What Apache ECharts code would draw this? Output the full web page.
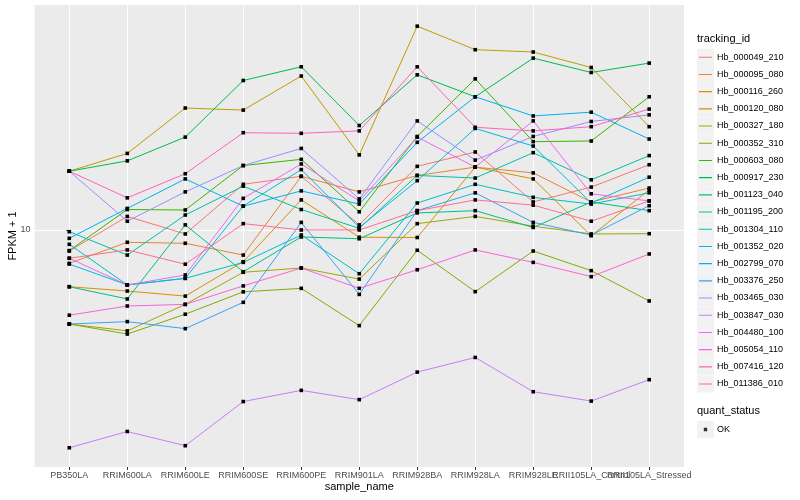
<!DOCTYPE html>
<html><head><meta charset="utf-8">
<script src="https://cdn.jsdelivr.net/npm/echarts@6/dist/echarts.min.js"></script>
<style>html,body{margin:0;padding:0;background:#fff}#c{width:800px;height:500px}</style>
</head><body><div id="c"></div>
<script>
const categories = ['PB350LA','RRIM600LA','RRIM600LE','RRIM600SE','RRIM600PE','RRIM901LA','RRIM928BA','RRIM928LA','RRIM928LE','RRII105LA_Control','RRII105LA_Stressed'];
const trackingIds = ['Hb_000049_210','Hb_000095_080','Hb_000116_260','Hb_000120_080','Hb_000327_180','Hb_000352_310','Hb_000603_080','Hb_000917_230','Hb_001123_040','Hb_001195_200','Hb_001304_110','Hb_001352_020','Hb_002799_070','Hb_003376_250','Hb_003465_030','Hb_003847_030','Hb_004480_100','Hb_005054_110','Hb_007416_120','Hb_011386_010'];
const quantStatus = ['OK'];

// FPKM + 1 per sample (order of categories)
const hb_000049_210 = [8.51, 11.1, 9.70, 14.2, 15.1, 10.4, 16.3, 18.2, 12.4, 13.9, 16.5];
const hb_000095_080 = [7.74, 9.10, 9.03, 8.25, 15.1, 13.4, 15.2, 16.2, 15.5, 12.4, 13.8];
const hb_000116_260 = [6.47, 6.26, 6.02, 7.84, 12.6, 9.46, 9.44, 16.2, 14.8, 9.57, 13.6];
const hb_000120_080 = [15.7, 18.0, 25.5, 25.1, 32.6, 17.8, 47.8, 39.9, 39.2, 34.8, 22.1];
const hb_000327_180 = [4.86, 4.61, 5.65, 7.23, 7.47, 6.86, 10.5, 11.1, 10.3, 9.70, 9.72];
const hb_000352_310 = [4.86, 4.50, 5.24, 6.22, 6.39, 4.80, 8.56, 6.23, 8.51, 7.32, 5.80];
const hb_000603_080 = [8.54, 11.7, 11.66, 16.4, 17.2, 11.5, 20.5, 31.9, 19.7, 19.8, 27.8];
const hb_000917_230 = [15.7, 17.0, 20.4, 31.5, 35.0, 22.3, 32.9, 27.8, 37.4, 33.5, 36.0];
const hb_001123_040 = [6.47, 5.89, 10.4, 7.26, 9.48, 9.35, 11.4, 11.6, 10.2, 12.4, 11.6];
const hb_001195_200 = [9.87, 8.25, 11.22, 14.0, 11.7, 10.13, 15.2, 14.9, 18.1, 14.7, 17.7];
const hb_001304_110 = [8.96, 6.56, 6.90, 7.80, 9.62, 7.15, 12.3, 14.2, 12.85, 12.2, 13.3];
const hb_001352_020 = [7.70, 6.56, 6.90, 12.02, 15.9, 10.2, 14.6, 21.8, 19.05, 12.3, 15.0];
const hb_002799_070 = [9.38, 11.8, 14.8, 12.0, 13.5, 12.2, 19.6, 27.8, 24.0, 24.7, 20.1];
const hb_003376_250 = [4.86, 4.95, 4.69, 5.74, 10.6, 6.10, 11.6, 13.3, 10.6, 9.62, 12.05];
const hb_003465_030 = [15.7, 10.7, 13.4, 16.4, 18.7, 12.7, 23.1, 17.1, 20.5, 23.0, 24.2];
const hb_003847_030 = [1.88, 2.13, 1.91, 2.68, 2.92, 2.72, 3.36, 3.76, 2.89, 2.69, 3.17];
const hb_004480_100 = [8.05, 6.56, 7.08, 12.75, 16.6, 12.5, 20.4, 16.2, 23.1, 13.2, 12.5];
const hb_005054_110 = [5.20, 5.58, 5.65, 6.51, 7.47, 6.39, 7.37, 8.58, 7.80, 6.99, 8.32];
const hb_007416_120 = [15.7, 12.8, 15.4, 21.1, 21.0, 21.4, 35.0, 22.0, 21.4, 22.1, 25.3];
const hb_011386_010 = [8.05, 8.58, 7.69, 10.5, 10.0, 10.0, 11.6, 12.6, 12.1, 10.7, 12.5];

const seriesValues = [hb_000049_210, hb_000095_080, hb_000116_260, hb_000120_080, hb_000327_180, hb_000352_310, hb_000603_080, hb_000917_230, hb_001123_040, hb_001195_200, hb_001304_110, hb_001352_020, hb_002799_070, hb_003376_250, hb_003465_030, hb_003847_030, hb_004480_100, hb_005054_110, hb_007416_120, hb_011386_010];
const yTickValues = [10];

// styles
const colors = ['#F8766D','#EA8331','#D89000','#C09B00','#A3A500','#7CAE00','#39B600','#00BB4E','#00BF7D','#00C1A3','#00BFC4','#00BAE0','#00B0F6','#35A2FF','#9590FF','#C77CFF','#E76BF3','#FA62DB','#FF62BC','#FF6C91'];
const FONT = 'Liberation Sans';
const lineIcon = 'path://M0,0h0.01v0.01h-0.01z M2,8h13v1.1h-13z M16.99,16.99h0.01v0.01h-0.01z';
const pointIcon = 'path://M0,0h0.01v0.01h-0.01z M6.8,6.8h3.4v3.4h-3.4z M16.99,16.99h0.01v0.01h-0.01z';
const legTop = 48.7, legStep = 17.2, legLeft = 697;

const catIdx = categories.map((c, i) => i);
const evenIdx = catIdx.filter(i => i % 2 === 0);
const oddIdx = catIdx.filter(i => i % 2 === 1);

const series = seriesValues.map((vals, k) => ({
  name: trackingIds[k],
  type: 'line',
  xAxisIndex: 0,
  data: vals.map((v, i) => [i, v]),
  symbol: 'rect',
  symbolSize: 3.6,
  itemStyle: { color: '#000' },
  lineStyle: { color: colors[k], width: 1 },
  emphasis: { disabled: true },
  animation: false
}));
series.push({ name: quantStatus[0], type: 'scatter', data: [], symbol: 'rect', itemStyle: { color: '#000' } });

const boxes = [];
trackingIds.forEach((n, i) => boxes.push({ type: 'rect', z: 0, shape: { x: legLeft, y: legTop + legStep * i, width: 17, height: 17 }, style: { fill: '#F2F2F2' } }));
boxes.push({ type: 'rect', z: 0, shape: { x: legLeft, y: 421, width: 17, height: 17 }, style: { fill: '#F2F2F2' } });

const xLabelStyle = { formatter: v => categories[Math.round(v)] || '', fontSize: 9, color: '#4D4D4D', margin: 4, fontFamily: FONT, hideOverlap: false, showMinLabel: true, showMaxLabel: true, interval: 0 };

const chart = echarts.init(document.getElementById('c'), null, { renderer: 'canvas' });
chart.setOption({
  animation: false,
  backgroundColor: '#fff',
  textStyle: { fontFamily: FONT },
  grid: { left: 34.5, right: 116, top: 5, bottom: 33, show: true, backgroundColor: '#EBEBEB', borderWidth: 0, outerBoundsMode: 'none' },
  xAxis: [{
    type: 'value', min: -0.6, max: 10.6, position: 'bottom',
    name: 'sample_name', nameLocation: 'middle', nameGap: 14, nameMoveOverlap: false,
    nameTextStyle: { fontSize: 11, color: '#000', fontFamily: FONT },
    axisLine: { show: false },
    axisTick: { show: true, length: 3, lineStyle: { color: '#333' }, customValues: catIdx },
    axisLabel: Object.assign({ customValues: evenIdx }, xLabelStyle),
    splitLine: { show: true, lineStyle: { color: '#fff', width: 1 } }
  }, {
    type: 'value', min: -0.6, max: 10.6, position: 'bottom', offset: 0,
    axisLine: { show: false },
    axisTick: { show: false },
    axisLabel: Object.assign({ customValues: oddIdx }, xLabelStyle),
    splitLine: { show: false }
  }],
  yAxis: {
    type: 'log', logBase: 10, min: 1.6218, max: 56.23,
    name: 'FPKM + 1', nameLocation: 'middle', nameGap: 16.5, nameMoveOverlap: false,
    nameTextStyle: { fontSize: 11, color: '#000', fontFamily: FONT },
    axisLine: { show: false },
    axisTick: { show: true, length: 3, lineStyle: { color: '#333' }, customValues: yTickValues },
    axisLabel: { customValues: yTickValues, fontSize: 9, color: '#4D4D4D', margin: 4, fontFamily: FONT },
    splitLine: { show: true, lineStyle: { color: '#fff', width: 1 } },
    minorSplitLine: { show: false }
  },
  title: [
    { text: 'tracking_id', left: legLeft, top: 33.5, padding: 0, textStyle: { fontSize: 11, fontWeight: 'normal', color: '#000', fontFamily: FONT } },
    { text: 'quant_status', left: legLeft, top: 405.5, padding: 0, textStyle: { fontSize: 11, fontWeight: 'normal', color: '#000', fontFamily: FONT } }
  ],
  legend: [
    {
      orient: 'vertical', left: legLeft, top: legTop, padding: 0,
      itemWidth: 17, itemHeight: 17, itemGap: legStep - 17,
      selectedMode: false,
      data: trackingIds.map((n, i) => ({ name: n, icon: lineIcon, itemStyle: { color: colors[i] } })),
      textStyle: { fontSize: 9, color: '#000', fontFamily: FONT, padding: [0, 0, 0, -2] }
    },
    {
      orient: 'vertical', left: legLeft, top: 421, padding: 0,
      itemWidth: 17, itemHeight: 17, selectedMode: false,
      data: [{ name: quantStatus[0], icon: pointIcon, itemStyle: { color: '#000' } }],
      textStyle: { fontSize: 9, color: '#000', fontFamily: FONT, padding: [0, 0, 0, -2] }
    }
  ],
  graphic: boxes,
  series: series
});
</script></body></html>
